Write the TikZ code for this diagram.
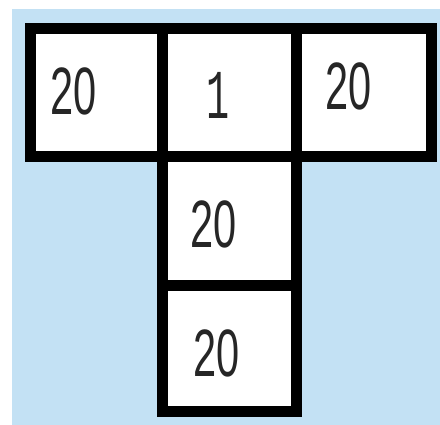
\documentclass[tikz,border=0pt]{standalone}
\usepackage{fontspec}
\setmainfont{Liberation Sans}
\newfontfamily\onefont{Liberation Mono}
\definecolor{bgblue}{RGB}{195,225,244}
\begin{document}
\begin{tikzpicture}[x=1pt,y=-1pt,
  cell/.style={draw=black, fill=white, line width=11pt, inner sep=0pt, outer sep=0pt},
  num/.style={inner sep=0pt, outer sep=0pt, font=\fontsize{67}{67}\selectfont, text=black!85}]
\useasboundingbox (0,0) rectangle (440,425);
\fill[white] (0,0) rectangle (440,425);
\fill[bgblue] (12,9) rectangle (440,425);
% cells
\node[cell, minimum width=132pt, minimum height=128pt] (A) at (96,92.5) {};
\node[cell, minimum width=134pt, minimum height=128pt] (B) at (229,92.5) {};
\node[cell, minimum width=135pt, minimum height=128pt] (C) at (363.5,92.5) {};
\node[cell, minimum width=134pt, minimum height=129.5pt] (D) at (229,221.25) {};
\node[cell, minimum width=134pt, minimum height=126pt] (E) at (229,349) {};
% redraw top row border on top so it is continuous
\draw[line width=11pt] (A.north west) rectangle (C.south east);
\draw[line width=11pt] (D.south west) -- (D.south east);
% texts
\node[num] (tA) at (73.5,91) {\scalebox{0.62}[1]{20}};
\node[num] (tB) at (218.5,95.5) {\onefont\fontsize{70}{70}\selectfont\scalebox{0.55}[1]{1}};
\node[num] (tC) at (349,86) {\scalebox{0.62}[1]{20}};
\node[num] (tD) at (214,224.5) {\scalebox{0.62}[1]{20}};
\node[num] (tE) at (216.5,353.5) {\scalebox{0.62}[1]{20}};
\end{tikzpicture}
\end{document}
